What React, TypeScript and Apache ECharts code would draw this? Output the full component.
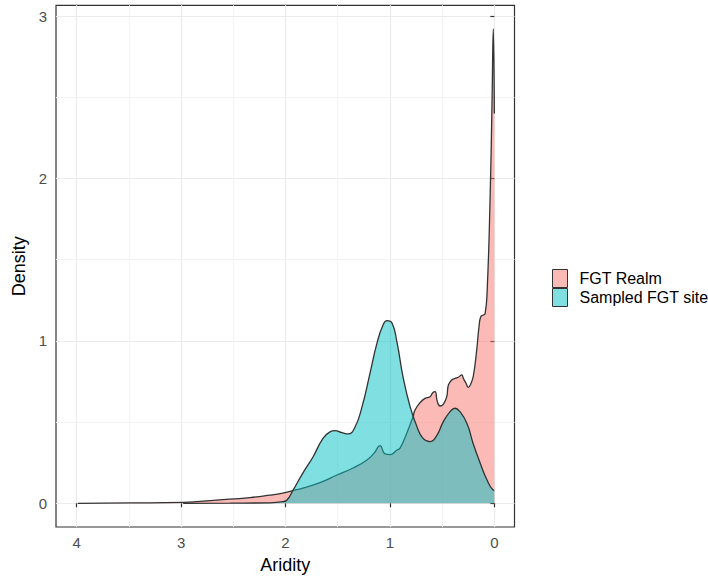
import React, { useEffect, useRef } from "react";
import * as echarts from "echarts";

// Aridity values (x) and density (y) for the FGT Realm distribution
const realmX = [0.0, 0.01, 0.022, 0.041, 0.07, 0.089, 0.105, 0.13, 0.147, 0.169, 0.201, 0.226, 0.249, 0.271, 0.297, 0.312, 0.345, 0.376, 0.408, 0.44, 0.456, 0.488, 0.52, 0.546, 0.568, 0.59, 0.616, 0.664, 0.712, 0.76, 0.779, 0.84, 0.903, 0.932, 0.999, 1.047, 1.095, 1.15, 1.22, 1.353, 1.507, 1.67, 1.834, 1.93, 2.025, 2.149, 2.34, 2.66, 2.98, 3.49, 3.99];
const realmY = [2.40, 2.92, 2.48, 1.87, 1.29, 1.166, 1.159, 1.149, 1.087, 0.944, 0.784, 0.735, 0.714, 0.739, 0.769, 0.79, 0.776, 0.769, 0.759, 0.728, 0.656, 0.611, 0.599, 0.626, 0.687, 0.681, 0.656, 0.646, 0.619, 0.574, 0.533, 0.43, 0.34, 0.328, 0.30, 0.304, 0.355, 0.31, 0.267, 0.217, 0.174, 0.127, 0.094, 0.078, 0.063, 0.05, 0.035, 0.02, 0.006, 0.002, 0.0];

// Aridity values (x) and density (y) for the Sampled FGT site distribution
const siteX = [0.0, 0.012, 0.07, 0.137, 0.204, 0.261, 0.329, 0.377, 0.424, 0.491, 0.549, 0.616, 0.683, 0.74, 0.807, 0.875, 0.932, 0.98, 1.028, 1.066, 1.124, 1.191, 1.267, 1.334, 1.401, 1.459, 1.526, 1.574, 1.641, 1.737, 1.834, 1.93, 1.986, 2.025, 2.15, 2.53, 2.98];
const siteY = [0.08, 0.082, 0.143, 0.25, 0.37, 0.49, 0.564, 0.585, 0.564, 0.50, 0.42, 0.38, 0.40, 0.47, 0.595, 0.78, 0.99, 1.11, 1.124, 1.098, 0.986, 0.80, 0.595, 0.47, 0.427, 0.435, 0.447, 0.44, 0.40, 0.285, 0.186, 0.078, 0.02, 0.01, 0.003, 0.001, 0.0];

const seriesNames = ["FGT Realm", "Sampled FGT site"];
const xTicks = [0, 1, 2, 3, 4];
const yTicks = [0, 1, 2, 3];
const xMinor = [0.5, 1.5, 2.5, 3.5];
const yMinor = [0.5, 1.5, 2.5];

const realmFill = "rgba(248,118,109,0.5)";
const siteFill = "rgba(0,191,196,0.5)";

export default function App() {
  const ref = useRef<HTMLDivElement>(null);
  useEffect(() => {
    if (!ref.current) return;
    const chart = echarts.init(ref.current, null, { renderer: "svg" });
    const realmData = realmX.map((x, i) => [x, realmY[i]]).sort((a, b) => a[0] - b[0]);
    const siteData = siteX.map((x, i) => [x, siteY[i]]).sort((a, b) => a[0] - b[0]);
    const font = "'Liberation Sans', Arial, sans-serif";
    chart.setOption({
      animation: false,
      backgroundColor: "#ffffff",
      textStyle: { fontFamily: font },
      grid: {
        left: 56,
        right: 193.5,
        top: 5.3,
        bottom: 55,
        show: true,
        borderColor: "#333333",
        borderWidth: 1.2,
        backgroundColor: "transparent",
      },
      legend: {
        orient: "vertical",
        left: 547,
        top: 264,
        itemWidth: 15,
        itemHeight: 18,
        itemGap: 0,
        icon: "rect",
        selectedMode: false,
        textStyle: { fontSize: 16, color: "#000", padding: [0, 0, 0, 7], lineHeight: 18, fontFamily: font },
        data: [
          { name: seriesNames[0], itemStyle: { color: realmFill, borderColor: "#333", borderWidth: 1 } },
          { name: seriesNames[1], itemStyle: { color: siteFill, borderColor: "#333", borderWidth: 1 } },
        ],
      },
      xAxis: {
        type: "value",
        inverse: true,
        min: -0.193,
        max: 4.198,
        axisLine: { show: false },
        axisTick: { show: true, length: 4, lineStyle: { color: "#333", width: 1.2 }, customValues: xTicks },
        axisLabel: { customValues: xTicks, color: "#4D4D4D", fontSize: 15, margin: 8, formatter: (v: number) => String(v) },
        splitLine: { show: true, lineStyle: { color: "#EBEBEB", width: 1.2 } },
        name: "Aridity",
        nameLocation: "middle",
        nameGap: 29,
        nameTextStyle: { fontSize: 18, color: "#000" },
      },
      yAxis: {
        type: "value",
        min: -0.146,
        max: 3.066,
        axisLine: { show: false },
        axisTick: { show: true, length: 4, lineStyle: { color: "#333", width: 1.2 }, customValues: yTicks },
        axisLabel: { customValues: yTicks, color: "#4D4D4D", fontSize: 15, margin: 9, formatter: (v: number) => String(v) },
        splitLine: { show: true, lineStyle: { color: "#EBEBEB", width: 1.2 } },
        name: "Density",
        nameLocation: "middle",
        nameGap: 19,
        nameTextStyle: { fontSize: 18, color: "#000" },
      },
      series: [
        {
          type: "line",
          name: "minor-grid",
          data: [],
          silent: true,
          z: 0,
          markLine: {
            silent: true,
            z: 0,
            symbol: ["none", "none"],
            label: { show: false },
            lineStyle: { color: "#F3F3F3", width: 1, type: "solid" },
            data: [...xMinor.map((v) => ({ xAxis: v })), ...yMinor.map((v) => ({ yAxis: v }))],
          },
        },
        {
          type: "line",
          name: seriesNames[0],
          data: realmData,
          showSymbol: false,
          smooth: 0.5,
          z: 2,
          itemStyle: { color: realmFill },
          lineStyle: { color: "#333333", width: 1.3 },
          areaStyle: { color: realmFill, opacity: 1 },
        },
        {
          type: "line",
          name: seriesNames[1],
          data: siteData,
          showSymbol: false,
          smooth: 0.5,
          z: 3,
          itemStyle: { color: siteFill },
          lineStyle: { color: "#333333", width: 1.3 },
          areaStyle: { color: siteFill, opacity: 1 },
        },
      ],
    });
    return () => chart.dispose();
  }, []);
  return <div ref={ref} style={{ position: "fixed", left: 0, top: 0, width: 708, height: 582 }} />;
}
